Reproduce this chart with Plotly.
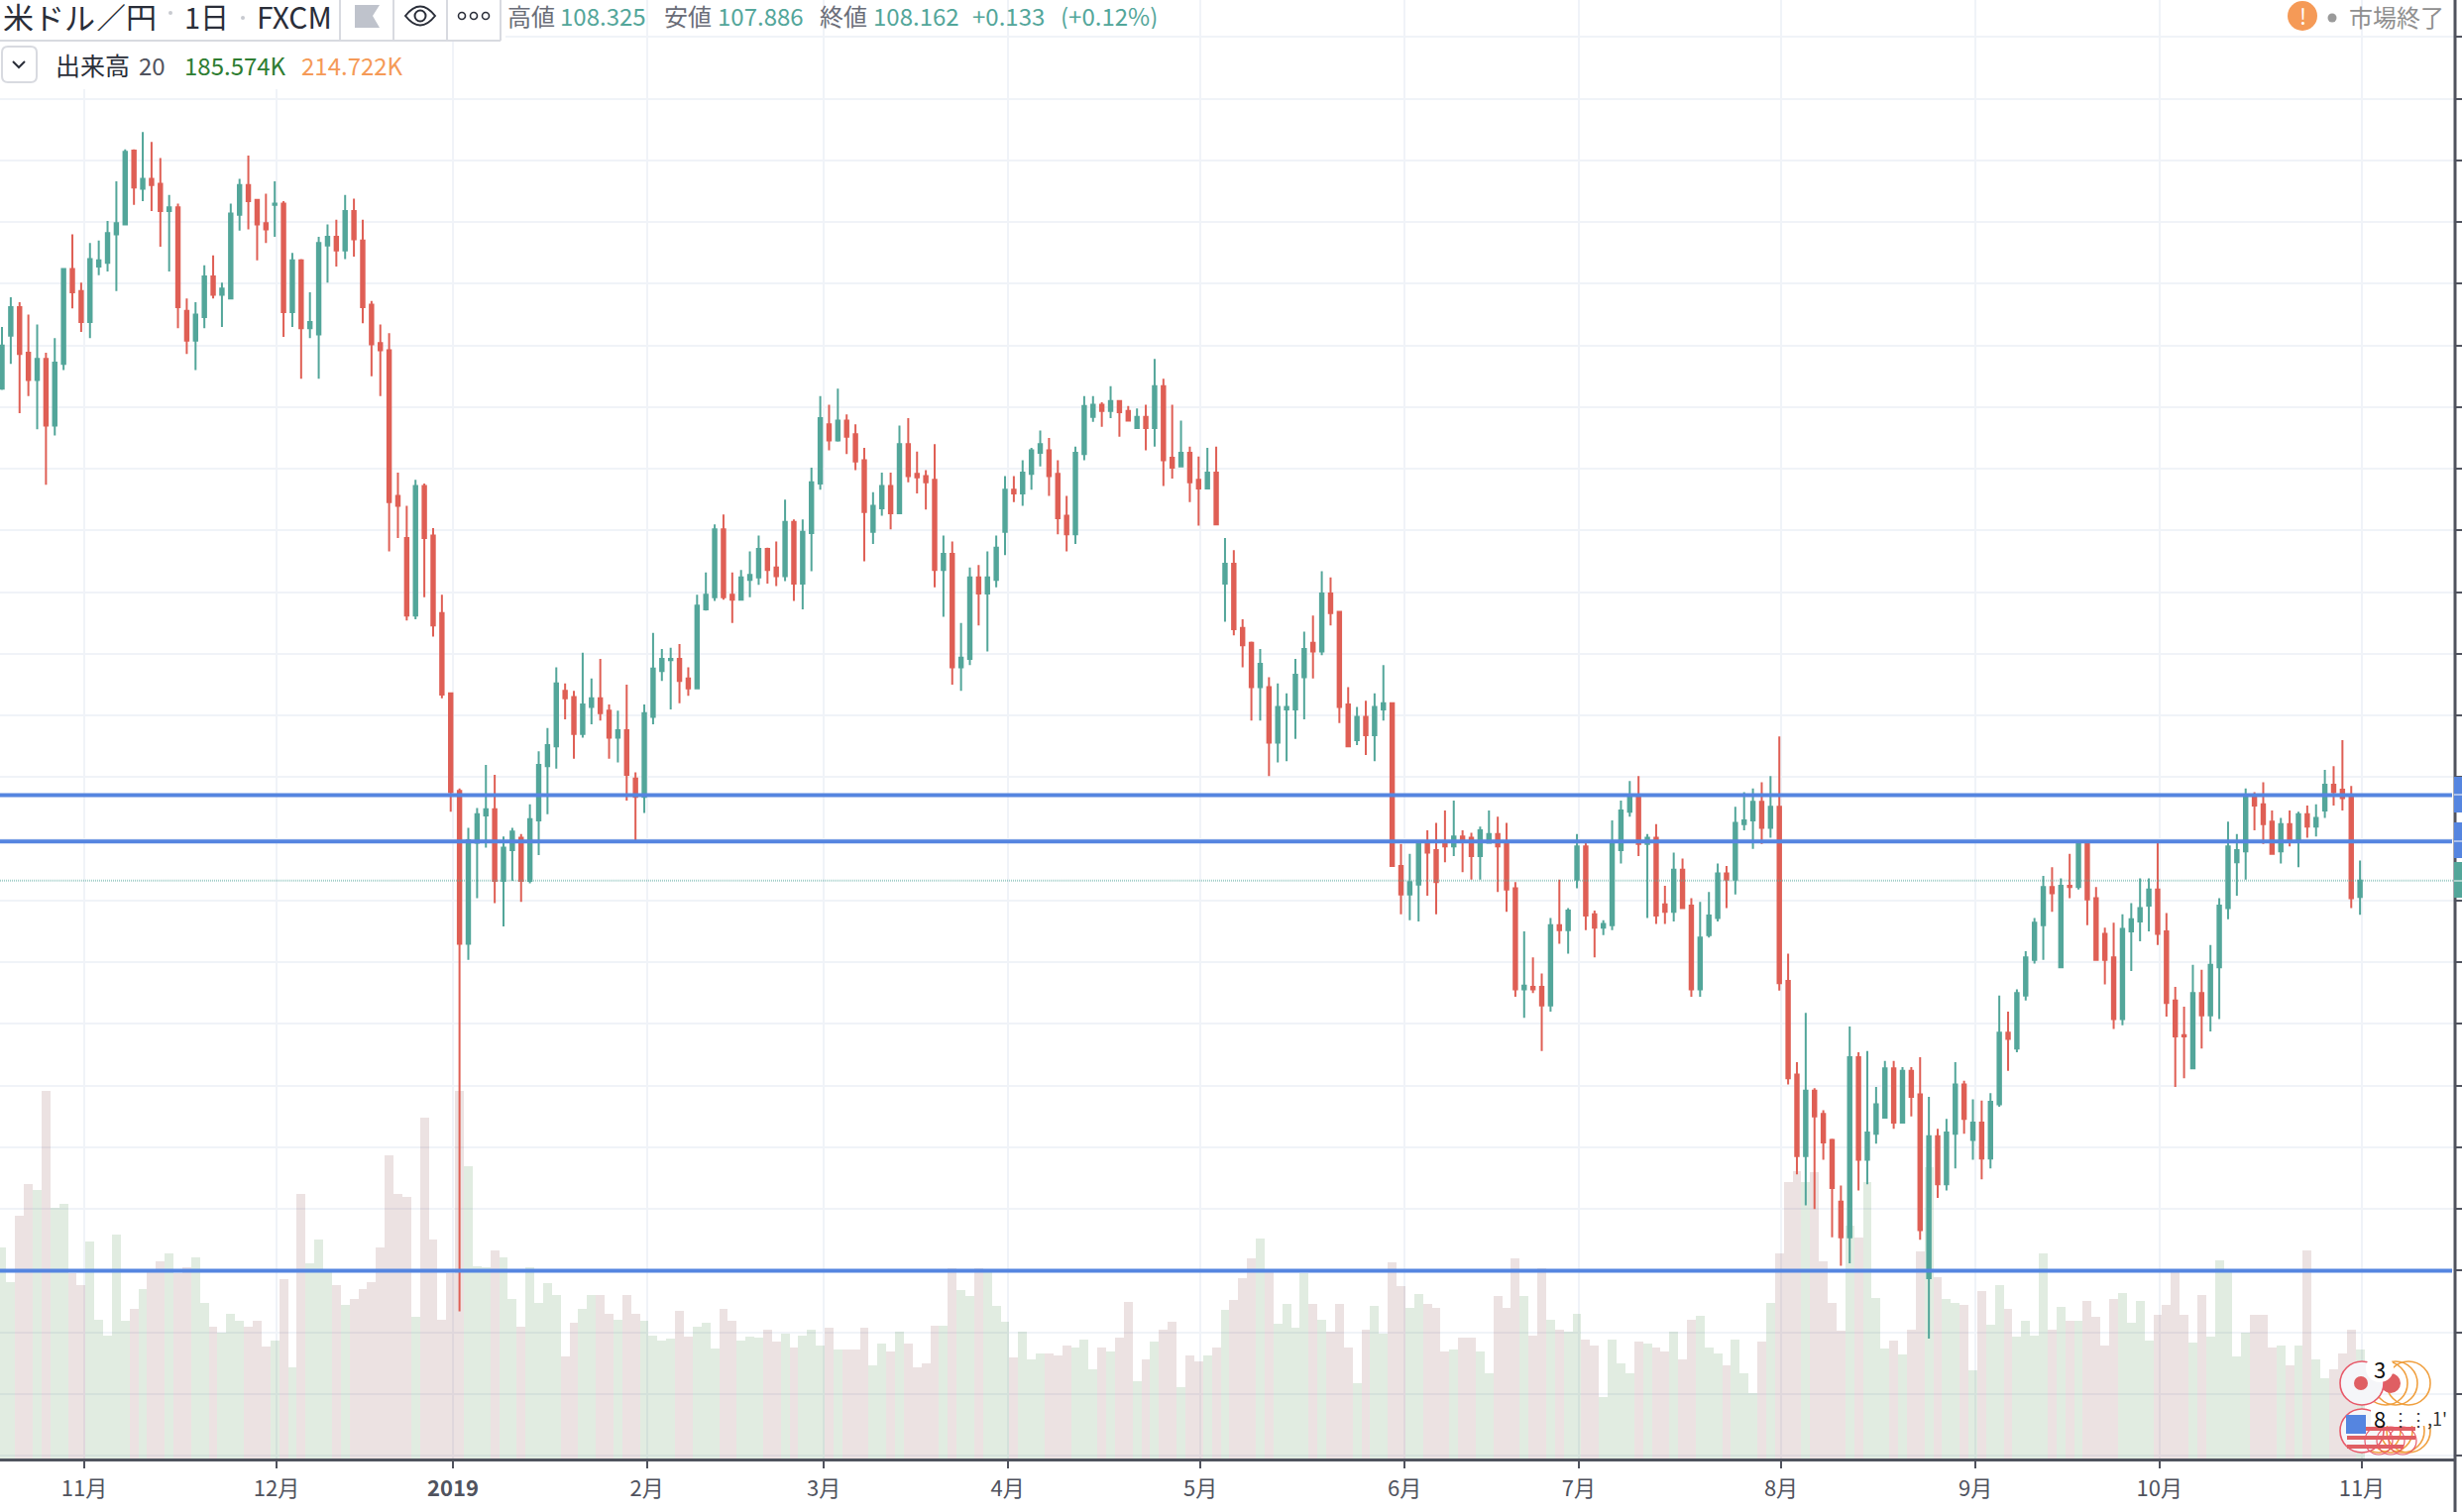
import plotly.graph_objects as go

opens = [
112.15,112.58,112.81,112.44,112.22,112.39,111.85,112.35,113.12,112.94,
112.69,113.14,113.17,113.40,113.48,114.08,113.77,113.85,113.81,113.59,
113.62,112.78,112.54,112.73,113.06,112.91,112.88,113.56,113.80,113.68,
113.49,113.64,113.65,112.77,113.19,112.64,112.59,113.31,113.38,113.27,
113.59,113.35,112.83,112.52,112.46,111.28,110.94,110.31,111.36,110.96,
110.33,109.68,108.89,107.65,108.47,108.69,108.74,108.16,108.41,108.51,
108.16,108.65,109.09,109.25,109.70,109.65,109.35,109.57,109.64,109.54,
109.32,109.38,108.99,108.84,109.49,109.86,109.95,109.96,109.80,109.72,
110.36,110.46,111.01,110.48,110.44,110.60,110.62,110.85,110.70,110.63,
111.07,110.57,110.98,111.38,111.86,111.73,111.89,111.78,111.57,110.99,
111.18,111.36,111.14,111.70,111.46,111.44,111.41,110.68,110.81,109.89,
109.96,110.62,110.49,110.60,110.99,111.33,111.30,111.46,111.63,111.65,
111.46,111.12,110.97,111.62,111.92,112.02,111.97,112.05,111.97,111.83,
111.92,111.83,112.17,111.59,111.52,111.63,111.41,111.34,111.47,110.57,
110.73,110.21,110.09,109.73,109.73,109.28,109.55,109.55,109.81,110.09,
110.02,110.49,110.34,109.59,109.30,109.49,109.34,109.55,109.60,108.28,
108.05,108.13,108.47,108.41,108.47,108.44,108.52,108.51,108.36,108.47,
108.54,108.46,108.10,107.28,107.30,107.30,107.15,107.80,107.76,108.17,
108.44,107.89,107.78,107.80,108.41,108.72,108.85,108.46,108.51,107.97,
107.91,108.25,107.96,107.28,107.72,107.86,108.22,108.17,108.62,108.65,
108.80,108.59,108.76,107.35,106.59,105.93,106.46,106.27,106.06,105.56,
105.27,106.73,105.90,106.11,106.24,106.64,106.20,106.62,106.43,104.94,
106.09,105.70,106.11,106.51,106.06,106.20,105.91,106.35,106.93,106.80,
107.23,107.52,107.80,108.11,107.46,108.12,108.11,108.46,108.02,107.73,
107.54,107.04,107.75,107.83,107.96,108.09,107.75,107.19,106.91,106.64,
107.25,107.07,107.46,107.94,108.31,108.40,108.85,108.78,108.64,108.40,
108.62,108.49,108.70,108.60,108.73,108.94,108.90,108.85,108.03]

highs = [
112.65,112.89,112.85,112.75,112.67,112.44,112.56,113.12,113.40,113.01,
113.33,113.35,113.51,113.83,114.09,114.09,114.23,114.15,114.02,113.72,
113.65,112.88,112.85,113.15,113.23,113.01,113.65,113.85,114.04,113.68,
113.73,113.83,113.67,113.25,113.20,112.93,113.38,113.48,113.52,113.72,
113.69,113.52,112.86,112.67,112.60,111.47,111.20,111.41,111.38,111.02,
110.48,109.68,108.91,108.59,108.75,109.10,109.02,108.52,108.59,108.54,
108.78,109.21,109.40,109.89,109.76,109.70,110.01,109.80,109.96,109.59,
109.54,109.75,109.04,109.59,110.17,110.04,110.05,110.08,109.89,110.48,
110.66,111.05,111.13,110.66,110.68,110.83,110.96,110.86,110.91,111.25,
111.09,111.09,111.51,112.09,112.02,112.15,111.94,111.86,111.67,111.31,
111.47,111.47,111.85,111.91,111.64,111.49,111.70,110.96,110.91,110.25,
110.70,110.72,110.83,110.96,111.44,111.44,111.57,111.67,111.81,111.75,
111.57,111.28,111.68,112.09,112.09,112.04,112.17,112.05,112.01,111.99,
112.02,112.39,112.23,112.02,111.89,111.68,111.60,111.67,111.68,110.94,
110.84,110.28,110.10,110.04,109.81,109.76,109.68,109.96,110.18,110.31,
110.67,110.62,110.34,109.73,109.57,109.62,109.68,109.91,109.60,108.46,
108.38,108.49,108.57,108.63,108.73,108.81,108.57,108.55,108.60,108.73,
108.68,108.63,108.15,107.75,107.54,107.41,107.86,108.17,107.94,108.54,
108.47,107.92,107.84,108.65,108.81,108.97,109.01,108.54,108.62,108.12,
108.39,108.34,108.02,107.99,108.07,108.30,108.28,108.76,108.88,108.91,
108.96,109.01,109.33,107.57,106.69,107.09,106.48,106.30,106.07,105.69,
106.98,106.77,106.78,106.49,106.70,106.70,106.65,106.65,106.73,106.41,
106.15,106.23,106.69,106.54,106.39,106.38,106.44,107.23,107.10,107.28,
107.59,107.86,108.20,108.27,108.18,108.38,108.47,108.47,108.11,107.78,
107.82,107.89,107.98,108.18,108.18,108.47,107.90,107.30,107.14,107.48,
107.44,107.64,108.02,108.64,108.54,108.91,108.88,108.96,108.73,108.67,
108.73,108.72,108.77,108.78,109.06,109.09,109.30,108.93,108.325]

lows = [
112.14,112.35,111.95,112.09,111.82,111.37,111.77,112.30,112.80,112.61,
112.56,113.07,113.10,112.94,113.48,113.64,113.67,113.59,113.30,113.10,
112.64,112.43,112.30,112.64,112.88,112.65,112.88,113.43,113.44,113.19,
113.33,113.38,112.57,112.65,112.23,112.56,112.23,113.01,113.14,113.20,
113.22,112.68,112.25,112.09,110.83,110.94,110.27,110.28,110.46,110.14,
109.64,108.72,104.67,107.52,108.02,108.43,107.98,107.79,108.16,107.99,
108.14,108.37,108.70,109.07,109.47,109.15,109.32,109.43,109.46,109.15,
109.12,108.81,108.49,108.71,109.43,109.78,109.55,109.60,109.66,109.72,
110.35,110.43,110.44,110.25,110.44,110.46,110.56,110.57,110.55,110.59,
110.43,110.36,110.67,111.33,111.65,111.72,111.62,111.49,110.75,110.89,
111.12,111.01,111.14,111.39,111.30,111.17,110.54,110.30,109.75,109.70,
109.91,110.23,110.02,110.54,110.80,111.23,111.20,111.33,111.52,111.28,
110.97,110.83,110.89,111.57,111.88,111.84,111.91,111.76,111.89,111.83,
111.65,111.68,111.36,111.42,111.52,111.23,111.04,111.34,111.05,110.26,
110.15,109.89,109.46,109.46,109.01,109.12,109.13,109.31,109.47,109.80,
109.99,110.23,109.44,109.25,109.26,109.18,109.13,109.46,108.28,107.89,
107.84,107.83,108.04,107.89,108.31,108.36,108.23,108.17,108.17,108.47,
108.07,107.91,107.22,107.05,107.25,106.78,107.10,107.65,107.57,108.10,
107.76,107.54,107.72,107.76,108.30,108.68,108.36,107.86,107.81,107.81,
107.83,107.94,107.22,107.22,107.70,107.83,107.94,108.05,108.57,108.42,
108.46,108.51,107.27,106.51,105.78,105.53,105.50,105.90,105.27,105.04,
105.06,105.65,105.70,106.03,106.24,106.15,106.20,106.25,105.25,104.45,
105.59,105.65,105.83,106.11,105.90,105.74,105.83,106.33,106.62,106.77,
107.19,107.49,107.52,107.91,107.46,108.02,108.09,107.80,107.52,107.32,
106.96,106.99,107.43,107.67,107.75,107.64,107.06,106.49,106.56,106.64,
106.80,106.94,107.04,107.85,108.04,108.17,108.57,108.46,108.38,108.30,
108.44,108.27,108.51,108.52,108.67,108.77,108.73,107.94,107.886]

closes = [
112.50,112.81,112.43,112.22,112.39,111.85,112.36,113.12,112.93,112.69,
113.20,113.19,113.41,113.49,114.07,113.78,113.85,113.80,113.59,113.62,
112.81,112.54,112.75,113.06,112.91,112.96,113.57,113.80,113.67,113.48,
113.44,113.65,112.77,113.19,112.64,112.69,113.33,113.38,113.27,113.59,
113.36,112.81,112.51,112.46,111.23,111.20,110.31,111.36,110.94,110.23,
109.67,108.88,107.65,108.49,108.70,108.74,108.16,108.43,108.56,108.16,
108.66,109.10,109.26,109.76,109.64,109.35,109.59,109.64,109.52,109.32,
109.38,109.02,108.84,109.52,109.88,109.96,109.96,109.78,109.72,110.39,
110.48,111.01,110.46,110.44,110.62,110.64,110.85,110.68,110.63,111.07,
110.57,110.99,111.39,111.91,111.73,111.89,111.76,111.56,111.15,111.20,
111.36,111.14,111.70,111.44,111.43,111.39,110.68,110.81,109.89,109.97,
110.62,110.49,110.62,110.86,111.33,111.30,111.47,111.65,111.70,111.44,
111.10,110.97,111.63,112.01,112.02,111.97,112.05,111.96,111.89,111.92,
111.83,112.17,111.57,111.51,111.63,111.39,111.34,111.47,111.05,110.73,
110.20,110.07,109.73,109.92,109.28,109.57,109.57,109.83,110.04,110.02,
110.49,110.33,109.57,109.25,109.49,109.34,109.57,109.60,108.28,108.05,
108.15,108.47,108.39,108.15,108.44,108.52,108.49,108.36,108.57,108.54,
108.44,108.09,107.28,107.31,107.28,107.15,107.80,107.76,107.92,108.44,
107.88,107.78,107.81,108.47,108.73,108.85,108.46,108.51,107.88,107.91,
108.25,107.94,107.28,107.70,107.88,108.22,108.17,108.63,108.65,108.80,
108.59,108.76,107.33,106.56,105.93,106.46,106.25,106.04,105.67,105.27,
106.73,105.90,106.12,106.35,106.64,106.20,106.62,106.41,105.33,106.09,
105.70,106.12,106.51,106.23,106.20,105.91,106.37,106.93,106.88,107.25,
107.54,107.82,108.11,108.06,108.12,108.11,108.46,108.01,107.52,107.52,
107.04,107.77,107.85,107.94,108.09,107.73,107.17,106.90,106.90,107.25,
107.07,107.48,107.96,108.44,108.41,108.85,108.77,108.62,108.38,108.62,
108.49,108.70,108.60,108.67,108.94,108.88,108.83,108.02,108.162]

volumes_k = [
359,301,413,467,457,625,426,433,315,295,
369,237,210,382,234,254,288,318,335,349,
315,325,342,264,224,214,247,234,224,234,
190,200,305,156,450,332,372,323,295,261,
271,288,301,359,517,450,446,241,581,372,
237,315,625,497,328,325,355,342,271,224,
325,264,298,278,173,231,254,278,278,247,
237,278,247,234,210,200,204,251,207,224,
231,187,254,234,200,207,206,219,199,213,
189,209,219,192,223,186,186,186,223,159,
196,182,216,196,155,162,226,226,324,287,
277,324,318,260,233,172,216,169,179,179,
175,192,189,202,152,189,182,206,267,132,
169,199,219,233,121,175,165,175,189,253,
270,307,341,374,318,229,263,223,316,263,
236,216,263,189,128,219,260,213,334,294,
256,280,263,256,182,186,206,206,182,145,
277,256,341,277,209,324,236,219,216,246,
202,192,105,202,162,145,199,196,189,182,
216,169,236,243,189,179,159,202,145,111,
199,264,349,470,490,470,487,335,264,217,
396,376,470,274,187,200,177,220,352,496,
308,271,264,261,150,285,227,295,254,207,
234,210,349,220,258,234,234,268,241,193,
271,281,231,268,200,244,261,318,244,197,
278,207,338,318,173,214,244,244,189,193,
159,193,355,169,136,152,179,220,185.574]

month_ticks = [9.35,31.2,51.26,73.3,93.4,114.3,136.2,159.4,179.2,202.2,224.3,245.2,268.2]
month_labels = ["11月","12月","<b>2019</b>","2月","3月","4月","5月","6月","7月","8月","9月","10月","11月"]
level_prices = [108.855,108.48,105.0]
last_price = 108.162
header_parts = [("高値","#6a6d78",512),("108.325","#53a69a",565),("安値","#6a6d78",670),("107.886","#53a69a",724),
                ("終値","#6a6d78",827),("108.162","#53a69a",881),("+0.133","#53a69a",981),("(+0.12%)","#53a69a",1070)]
legend_parts = [("出来高","#2a2e39",56,25),("20","#50535e",140,24),("185.574K","#2e7d32",186,24),("214.722K","#f59a57",304,24)]

W,H=2484,1526
PW,PH=2477,1472
UP,DOWN="#53a69a","#df5f55"
BLUE="#5585e0"
GRID="#f0f3f8"
AX="#50535e"
CJK="Noto Sans CJK JP"

def X(v): return v/PW
def Y(v): return 1-v/PH

x=list(range(len(opens)))
bar_colors=["rgba(55,125,55,0.15)" if c>=o else "rgba(128,60,60,0.15)" for o,c in zip(opens,closes)]

fig=go.Figure()
fig.add_trace(go.Bar(x=x,y=volumes_k,marker=dict(color=bar_colors,line=dict(width=0)),yaxis="y",hoverinfo="skip",showlegend=False))
fig.add_trace(go.Candlestick(x=x,open=opens,high=highs,low=lows,close=closes,yaxis="y2",whiskerwidth=0,showlegend=False,
    increasing=dict(line=dict(color=UP,width=2),fillcolor=UP),
    decreasing=dict(line=dict(color=DOWN,width=2),fillcolor=DOWN)))

shapes=[];ann=[]
def rect(x0,y0,x1,y1,fill,line=None,lw=0,layer="above"):
    shapes.append(dict(type="rect",xref="paper",yref="paper",x0=X(x0),x1=X(x1),y0=Y(y0),y1=Y(y1),fillcolor=fill,
        line=dict(color=line or fill,width=lw),layer=layer))
def seg(x0,y0,x1,y1,c,w=2):
    shapes.append(dict(type="line",xref="paper",yref="paper",x0=X(x0),x1=X(x1),y0=Y(y0),y1=Y(y1),line=dict(color=c,width=w),layer="above"))
def circ(cx,cy,r,fill="rgba(0,0,0,0)",line=None,lw=0):
    shapes.append(dict(type="circle",xref="paper",yref="paper",x0=X(cx-r),x1=X(cx+r),y0=Y(cy-r),y1=Y(cy+r),fillcolor=fill,
        line=dict(color=line or "rgba(0,0,0,0)",width=lw),layer="above"))
def path(cmds,fill="rgba(0,0,0,0)",line=None,lw=0):
    s=""
    for c in cmds:
        if c[0]=="Z": s+=" Z"
        else:
            s+=" "+c[0]+" "+" ".join(f"{X(c[i]):.6f},{Y(c[i+1]):.6f}" for i in range(1,len(c),2))
    shapes.append(dict(type="path",xref="paper",yref="paper",path=s.strip(),fillcolor=fill,line=dict(color=line or "rgba(0,0,0,0)",width=lw),layer="above"))
def text(t,px,py,size,color,anchor="left",font=CJK,box=None):
    a=dict(text=t,xref="paper",yref="paper",x=X(px),y=Y(py),xanchor=anchor,yanchor="middle",showarrow=False,
        font=dict(family=font,size=size,color=color),borderpad=0,borderwidth=0)
    if box: a["height"]=box
    ann.append(a)

# level lines
for p in level_prices:
    shapes.append(dict(type="line",xref="paper",yref="y2",x0=0,x1=X(2474),y0=p,y1=p,line=dict(color=BLUE,width=4),layer="above"))
shapes.append(dict(type="line",xref="paper",yref="y2",x0=0,x1=X(2477),y0=last_price,y1=last_price,
    line=dict(color="rgba(83,166,154,0.55)",width=2,dash="1px,1px"),layer="above"))

# header masks
rect(0,0,510,41,"white")
rect(0,41,420,90,"white")
# toolbar
seg(0,41,505,41,"#d8dae0",2)
for vx in (343,397,451,505): seg(vx,0,vx,41,"#d8dae0",2)
path([("M",358,5),("L",383,5),("L",376,16),("L",383,28),("L",358,28),("Z",)],fill="#bfc3cc")
path([("M",409,16),("Q",424,-3,439,16),("Q",424,35,409,16),("Z",)],line="#2a2e39",lw=2)
circ(424,16,5.5,line="#2a2e39",lw=2)
for dx in (466,478,490): circ(dx,16,3.5,line="#2a2e39",lw=1.6)
text("米ドル／円",3,16,31,"#2a2e39",box=30)
circ(172,13,2,fill="#c8cad0")
text("1日",186,16,29,"#2a2e39",box=30)
circ(245,18,2,fill="#c8cad0")
text("FXCM",259,16,30,"#2a2e39",box=30)
for t,c,px in header_parts: text(t,px,15,24,c,box=28)
# legend row
path([("M",8,47),("L",31,47),("Q",37,47,37,53),("L",37,77),("Q",37,83,31,83),("L",8,83),("Q",2,83,2,77),("L",2,53),("Q",2,47,8,47),("Z",)],line="#d8dae0",lw=2)
path([("M",13,62),("L",19,68),("L",25,62)],line="#2a2e39",lw=2)
for t,c,px,sz in legend_parts: text(t,px,65,sz,c)
# top right status
circ(2323,16,15,fill="#f59a57")
text("!",2323,15,22,"white","center",box=28)
circ(2353,18,4.5,fill="#9a9a9a")
text("市場終了",2370,16,24,"#8f8f8f",box=28)
# right axis line and price tags
seg(2477,0,2477,1526,AX,3)
rect(2476,784,2484,820,BLUE); rect(2476,830,2484,866,BLUE); rect(2476,870,2484,906,UP)
seg(2476,802,2484,802,"#c9d6f2",1.5); seg(2476,849,2484,849,"#c9d6f2",1.5); seg(2476,889,2484,889,"#c5e0dc",1.5)
# event markers
for cx in (2407,2417,2430): circ(cx,1396,22,line="#f0a040",lw=1.6)
circ(2412,1396,10,fill="#df5f63")
circ(2383,1396,22,fill="#f5f6f9",line="#e85a6a",lw=1.6)
circ(2382,1396,7,fill="#df5f63")
circ(2401,1381,14,fill="white")
text("3",2401,1381,22,"#111","center")
for cx in (2400,2412,2424,2430): circ(cx,1444,22,line="#f0a040",lw=1.6)
circ(2383,1444,22,fill="#f5f6f9",line="#e85a6a",lw=1.6)
for sy,sx in ((1440,2437),(1449,2437),(1458,2425)):
    rect(2368,sy,sx,sy+4,"#df5f63")
rect(2367,1428,2387,1447,"#5585e0")
for cx in (2400,2412,2424): circ(cx,1454,14,line="#e85a6a",lw=1.2)
rect(2392,1420,2452,1439,"white")
text("8",2401,1431,22,"#111","center")
text("⋮⋮,1'",2413,1431,18,"#333")

fig.update_layout(
    width=W,height=H,autosize=False,paper_bgcolor="white",plot_bgcolor="white",
    margin=dict(l=0,r=W-PW,t=0,b=H-PH,pad=0),
    bargap=0,boxgap=0.45,showlegend=False,shapes=shapes,annotations=ann,
    xaxis=dict(type="linear",range=[-0.225,278.8],tickmode="array",tickvals=month_ticks,ticktext=month_labels,
        showgrid=True,gridcolor=GRID,gridwidth=2,zeroline=False,showline=True,linecolor=AX,linewidth=3,
        ticks="outside",ticklen=7,tickwidth=2,tickcolor=AX,tickangle=0,ticklabelstandoff=2,
        tickfont=dict(family=CJK,size=22,color=AX),rangeslider=dict(visible=False),fixedrange=True),
    yaxis=dict(range=[0,2483],visible=False,showgrid=False,zeroline=False,fixedrange=True),
    yaxis2=dict(overlaying="y",side="right",range=[103.478,115.30],tick0=0,dtick=0.5,showgrid=True,gridcolor=GRID,gridwidth=2,
        zeroline=False,showline=False,ticks="outside",ticklen=7,tickwidth=2,tickcolor=AX,showticklabels=False,fixedrange=True),
)
fig.write_html("out.html",config=dict(displayModeBar=False),
    post_script="document.body.style.margin='0';document.documentElement.style.overflow='hidden';document.body.style.overflow='hidden';")
